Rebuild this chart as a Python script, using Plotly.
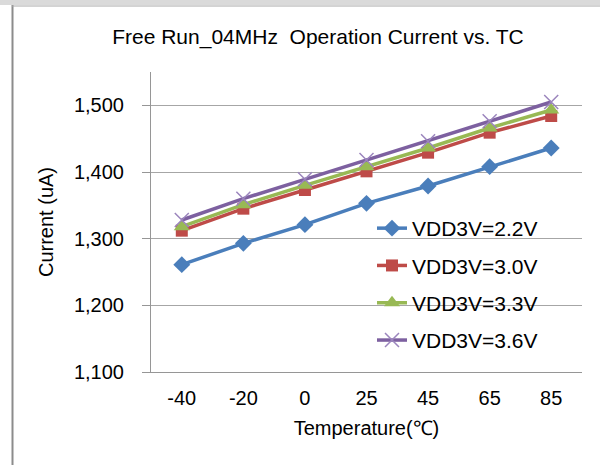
import plotly.graph_objects as go

temps = ["-40", "-20", "0", "25", "45", "65", "85"]
vdd22 = [1261, 1293, 1321, 1353, 1379, 1408, 1436]
vdd30 = [1312, 1345, 1373, 1401, 1429, 1459, 1484]
vdd33 = [1318, 1351, 1380, 1408, 1436, 1466, 1493]
vdd36 = [1328, 1360, 1389, 1418, 1446, 1476, 1505]
names = ["VDD3V=2.2V", "VDD3V=3.0V", "VDD3V=3.3V", "VDD3V=3.6V"]
colors = ["#4A7EBB", "#BE4B48", "#98B954", "#7D60A0"]
symbols = ["diamond", "square", "triangle-up", "x-thin"]
sizes = [13, 12, 14, 14]
series = [vdd22, vdd30, vdd33, vdd36]

W, H = 600, 465
L, R, T, B = 151, 582, 72, 372

def px(x):
    return (x - L) / (R - L)

def py(y):
    return (B - y) / (B - T)

FONT = "Liberation Sans, Arial, sans-serif"

fig = go.Figure()
for i, (nm, vals) in enumerate(zip(names, series)):
    mk = dict(symbol=symbols[i], size=sizes[i], color=colors[i])
    if symbols[i] == "x-thin":
        mk["line"] = dict(color="#9B85BD", width=1.5)
    fig.add_trace(go.Scatter(
        x=temps, y=vals, name=nm, mode="lines+markers",
        line=dict(color=colors[i], width=3.5),
        marker=mk, legendgroup=nm,
    ))

fig.update_layout(
    width=W, height=H,
    margin=dict(l=L, r=W - R, t=T, b=H - B),
    paper_bgcolor="white", plot_bgcolor="white",
    font=dict(family=FONT, size=20, color="#000000"),
    title=dict(text="Free Run_04MHz\u00a0 Operation Current vs. TC",
               x=318 / W, xanchor="center", xref="container",
               y=1 - 37 / H, yanchor="middle", yref="container",
               font=dict(size=21)),
    showlegend=True,
    legend=dict(x=px(372), y=py(208), xanchor="left", yanchor="top",
                bgcolor="rgba(0,0,0,0)", font=dict(size=21),
                traceorder="grouped", tracegroupgap=7,
                itemwidth=30),
    xaxis=dict(type="category", range=[-0.5, 6.5], showgrid=False,
               showline=True, linecolor="#969696", linewidth=1,
               ticks="", ticklabelstandoff=8,
               title=dict(text="Temperature(℃)", standoff=12,
                          font=dict(size=20))),
    yaxis=dict(range=[1100, 1550], tick0=1100, dtick=100,
               tickformat=",d", showgrid=True, gridcolor="#A6A6A6",
               gridwidth=1, showline=True, linecolor="#969696",
               linewidth=1, ticks="outside", ticklen=8,
               tickcolor="#969696", ticklabelstandoff=14,
               zeroline=False,
               title=dict(text="Current (uA)", standoff=14,
                          font=dict(size=20))),
    shapes=[
        dict(type="rect", xref="paper", yref="paper",
             x0=px(0), x1=px(W), y0=py(0), y1=py(5),
             fillcolor="#DADADA", line=dict(width=0), layer="below"),
        dict(type="line", xref="paper", yref="paper",
             x0=px(12.5), x1=px(12.5), y0=py(5), y1=py(H),
             line=dict(color="#8C8C8C", width=2)),
        dict(type="line", xref="paper", yref="paper",
             x0=px(12), x1=px(W), y0=py(6), y1=py(6),
             line=dict(color="#A8A8A8", width=1)),
    ],
)

fig.write_html("out.html", config={"displayModeBar": False},
               post_script="document.body.style.margin='0';document.body.style.overflow='hidden';")
